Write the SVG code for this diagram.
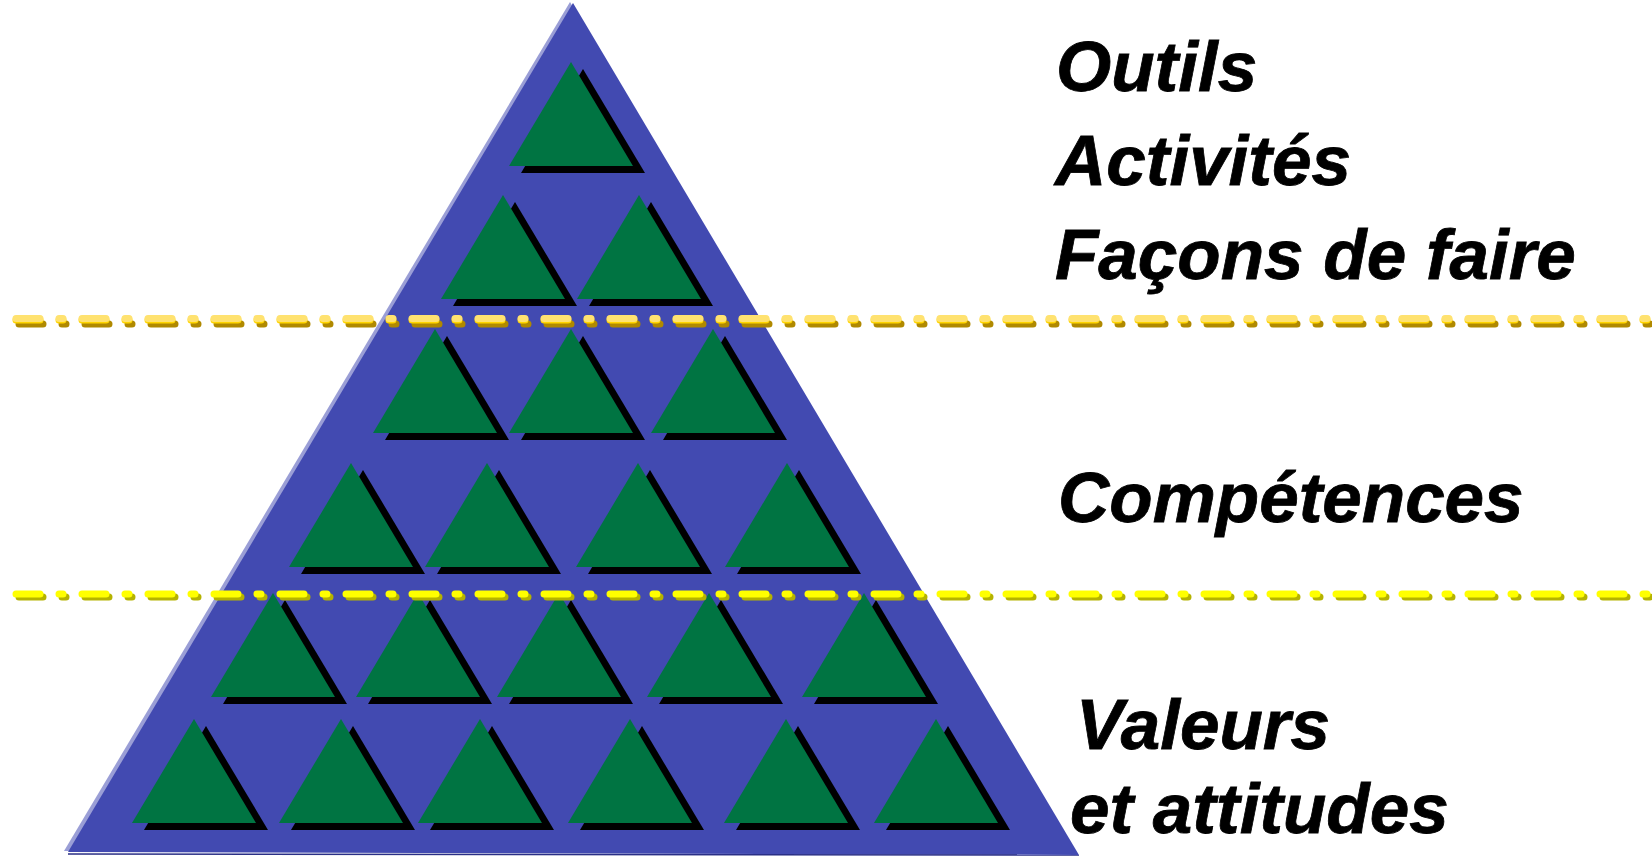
<svg xmlns="http://www.w3.org/2000/svg" xmlns:xlink="http://www.w3.org/1999/xlink" width="1652" height="856" viewBox="0 0 1652 856">
  <style>
    .label { font-family: "Liberation Sans", Arial, sans-serif; font-weight: bold; font-style: italic; font-size: 71px; fill: #000; stroke: #000; stroke-width: 0.8; }
    .green { fill: #007442; }
    .shadow { fill: #000; }
    .dash { fill: none; stroke-width: 7; stroke-linecap: round; stroke-dasharray: 24 19 4 19; }
  </style>
  <defs>
    <!-- small green pyramid with its drop shadow; origin at the apex -->
    <g id="tri">
      <polygon class="shadow" points="12,7 -50,111 74,111"/>
      <polygon class="green" points="0,0 -62,104 62,104"/>
    </g>
  </defs>

  <!-- large pyramid -->
  <g id="pyramid">
    <polygon points="570,2 64,851 1076,853" fill="#9a9ed6"/>
    <polygon points="573,3 68,852 1079,855" fill="#424ab1"/>
    <line x1="68" y1="854" x2="1079" y2="855" stroke="#2a2f86" stroke-width="1.5"/>
  </g>

  <!-- rows of small pyramids, top to bottom -->
  <g id="row1">
    <use xlink:href="#tri" x="571" y="62"/>
  </g>
  <g id="row2">
    <use xlink:href="#tri" x="503" y="195"/>
    <use xlink:href="#tri" x="639" y="195"/>
  </g>
  <g id="row3">
    <use xlink:href="#tri" x="435" y="329"/>
    <use xlink:href="#tri" x="571" y="329"/>
    <use xlink:href="#tri" x="713" y="329"/>
  </g>
  <g id="row4">
    <use xlink:href="#tri" x="351" y="463"/>
    <use xlink:href="#tri" x="487" y="463"/>
    <use xlink:href="#tri" x="638" y="463"/>
    <use xlink:href="#tri" x="787" y="463"/>
  </g>
  <g id="row5">
    <use xlink:href="#tri" x="273" y="593"/>
    <use xlink:href="#tri" x="418" y="593"/>
    <use xlink:href="#tri" x="559" y="593"/>
    <use xlink:href="#tri" x="709" y="593"/>
    <use xlink:href="#tri" x="864" y="593"/>
  </g>
  <g id="row6">
    <use xlink:href="#tri" x="194" y="719"/>
    <use xlink:href="#tri" x="341" y="719"/>
    <use xlink:href="#tri" x="480" y="719"/>
    <use xlink:href="#tri" x="630" y="719"/>
    <use xlink:href="#tri" x="786" y="719"/>
    <use xlink:href="#tri" x="936" y="719"/>
  </g>

  <!-- dash-dot separators -->
  <g id="separators">
    <path class="dash" d="M19,324 H1655" stroke="#b08900"/>
    <path class="dash" d="M16,320 H1652" stroke="#ffd500"/>
    <path class="dash" d="M16,318.5 H1652" stroke="#ffe270" stroke-width="2"/>
    <path class="dash" d="M19,597 H1655" stroke="#b5b300"/>
    <path class="dash" d="M16,594 H1652" stroke="#ffff00"/>
  </g>

  <!-- labels -->
  <g id="label-top">
    <text class="label" x="1056" y="91">Outils</text>
    <text class="label" x="1055" y="185">Activités</text>
    <text class="label" x="1055" y="279">Façons de faire</text>
  </g>
  <g id="label-middle">
    <text class="label" x="1058" y="522">Compétences</text>
  </g>
  <g id="label-bottom">
    <text class="label" x="1076" y="749">Valeurs</text>
    <text class="label" x="1070" y="833">et attitudes</text>
  </g>
</svg>
